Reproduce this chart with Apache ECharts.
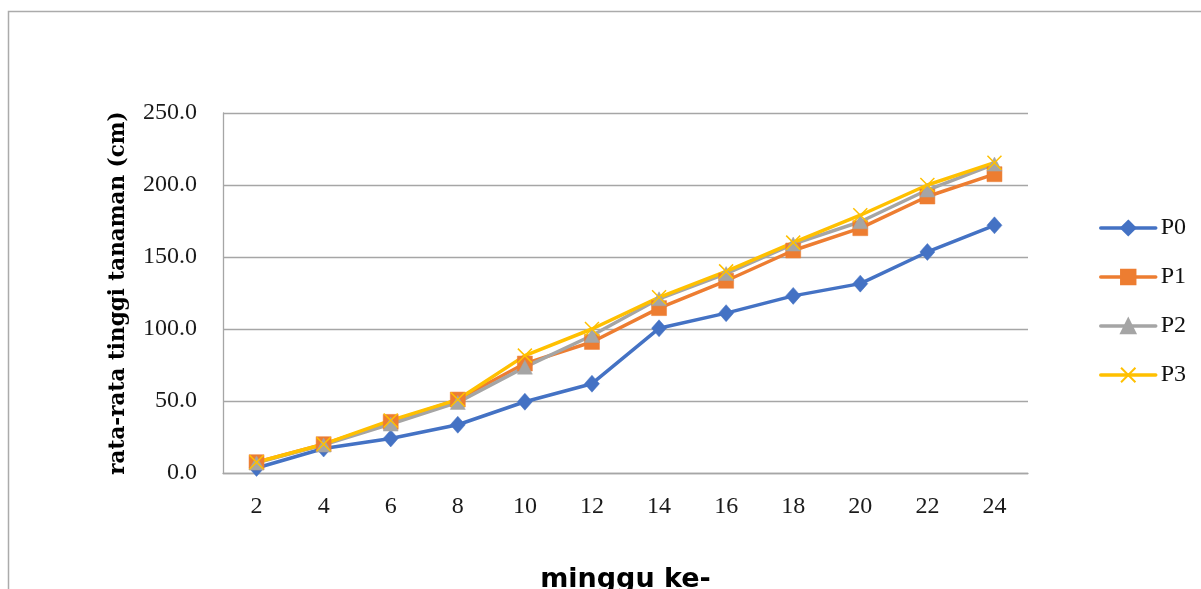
<!DOCTYPE html>
<html>
<head>
<meta charset="utf-8">
<script src="https://cdn.jsdelivr.net/npm/echarts@6/dist/echarts.min.js"></script>
<style>
  html, body { margin: 0; padding: 0; background: #ffffff; overflow: hidden; }
  #chart { width: 1201px; height: 589px; }
</style>
</head>
<body>
<div id="chart"></div>
<script>
// Weeks after planting (x axis)
const weeks = ['2', '4', '6', '8', '10', '12', '14', '16', '18', '20', '22', '24'];

// Mean plant height (cm) per treatment
const p0 = [3.5, 17, 24, 33.5, 49.5, 62, 100.5, 111, 123, 131.5, 153.5, 172];
const p1 = [7.5, 20, 35.5, 51, 76, 91, 114.5, 133.5, 154.5, 170, 192, 207.5];
const p2 = [7, 19.5, 34, 49, 73.5, 95.5, 121, 138.5, 159, 174.5, 196.5, 214.5];
const p3 = [7.5, 20, 36.5, 51, 81.5, 100, 122, 140, 160, 179, 200, 215.5];

const seriesNames = ['P0', 'P1', 'P2', 'P3'];
const seriesColors = ['#4472C4', '#ED7D31', '#A5A5A5', '#FFC000'];

// Y axis range
const yMin = 0;
const yMax = 250;
const yStep = 50;

const serifFont = '"Liberation Serif", "Times New Roman", serif';
const crossPath = 'path://M0,0L10,10M10,0L0,10';

function lineSeries(name, data, color, symbol, size, extraItem) {
  return {
    name: name,
    type: 'line',
    data: data,
    symbol: symbol,
    symbolSize: size,
    showAllSymbol: true,
    lineStyle: { color: color, width: 3.5, cap: 'round', join: 'round' },
    itemStyle: Object.assign({ color: color, borderColor: color, borderWidth: 0.5 }, extraItem || {}),
    emphasis: { disabled: true }
  };
}

const chart = echarts.init(document.getElementById('chart'), null, { renderer: 'canvas', width: 1201, height: 589 });

chart.setOption({
  animation: false,
  backgroundColor: '#ffffff',
  color: seriesColors,
  graphic: [
    {
      type: 'rect',
      shape: { x: 8.5, y: 11.5, width: 1400, height: 800 },
      style: { fill: 'none', stroke: '#ababab', lineWidth: 1.5 },
      silent: true
    }
  ],
  grid: { left: 223, top: 113, width: 805, height: 360, containLabel: false, outerBoundsMode: 'none' },
  legend: {
    orient: 'vertical',
    left: 1099,
    top: 216,
    padding: 0,
    itemWidth: 55,
    itemHeight: 18,
    itemGap: 25,
    data: seriesNames,
    lineStyle: { width: 3.5 },
    textStyle: { fontFamily: serifFont, fontSize: 24, color: '#111111' }
  },
  xAxis: {
    type: 'category',
    data: weeks,
    boundaryGap: true,
    name: 'minggu ke-',
    nameLocation: 'middle',
    nameGap: 93,
    nameTextStyle: { fontFamily: '"DejaVu Sans", sans-serif', fontWeight: 'bold', fontSize: 27, color: '#000000' },
    axisLine: { show: true, lineStyle: { color: '#a6a6a6', width: 1.3 } },
    axisTick: { show: false },
    axisLabel: { margin: 22, fontFamily: serifFont, fontSize: 24, color: '#1a1a1a' },
    splitLine: { show: false }
  },
  yAxis: {
    type: 'value',
    min: yMin,
    max: yMax,
    interval: yStep,
    name: 'rata-rata tinggi tanaman (cm)',
    nameLocation: 'middle',
    nameRotate: 90,
    nameGap: 94,
    nameTextStyle: { fontFamily: '"DejaVu Serif", serif', fontWeight: 'bold', fontSize: 21.5, color: '#000000' },
    axisLine: { show: true, lineStyle: { color: '#a6a6a6', width: 1.3 } },
    axisTick: { show: false },
    axisLabel: {
      margin: 26,
      fontFamily: serifFont,
      fontSize: 24,
      color: '#1a1a1a',
      formatter: function (v) { return v.toFixed(1); }
    },
    splitLine: { show: true, lineStyle: { color: '#a6a6a6', width: 1.3 } }
  },
  series: [
    lineSeries('P0', p0, seriesColors[0], 'diamond', [15, 17]),
    lineSeries('P1', p1, seriesColors[1], 'rect', 15),
    lineSeries('P2', p2, seriesColors[2], 'triangle', [15, 14]),
    lineSeries('P3', p3, seriesColors[3], crossPath, 14, { color: 'none', borderColor: seriesColors[3], borderWidth: 1.5 })
  ]
});
</script>
</body>
</html>
